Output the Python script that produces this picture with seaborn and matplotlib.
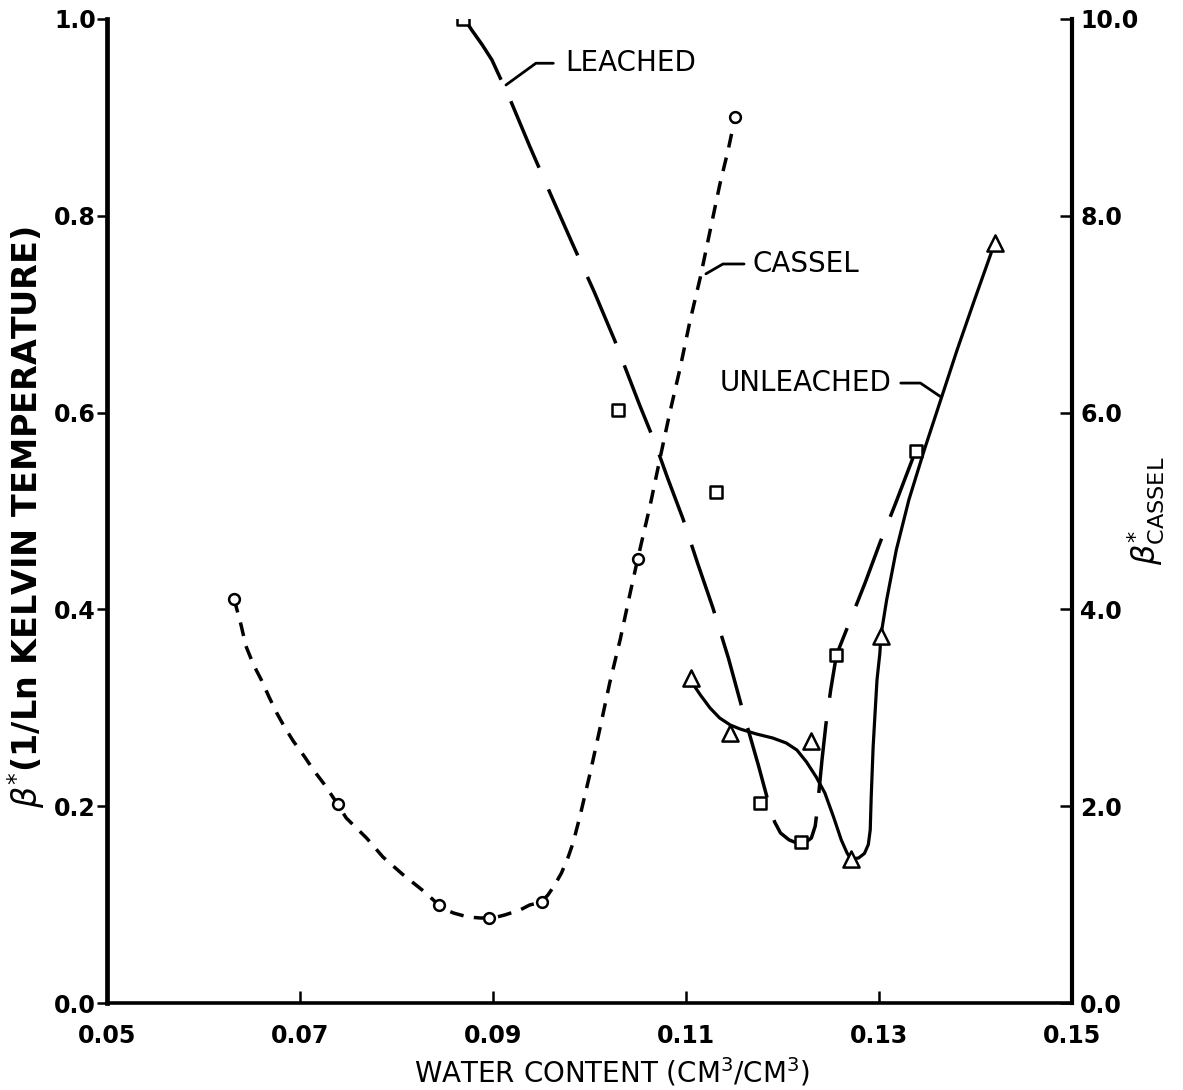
import numpy as np
import pandas as pd
import matplotlib
matplotlib.use("Agg")
import matplotlib.pyplot as plt
import seaborn as sns

# ---------------- data ----------------
# Cassel soil: measured points (circles)
cassel_x = [0.0632, 0.0739, 0.0844, 0.0896, 0.0951, 0.1050, 0.1151]
cassel_y = [0.411, 0.202, 0.0996, 0.0864, 0.1026, 0.451, 0.900]
# Cassel hand-drawn curve (short dashes)
cassel_curve_x = [0.0632, 0.0634, 0.0639, 0.0644, 0.0652, 0.0660, 0.0668, 0.0676,
                  0.0684, 0.0693, 0.0705, 0.0714, 0.0725, 0.0739, 0.0748, 0.0769,
                  0.0786, 0.0806, 0.0828, 0.0844, 0.0852, 0.0859, 0.0874, 0.0887,
                  0.0896, 0.0904, 0.0912, 0.0928, 0.0938, 0.0950, 0.0957, 0.0964,
                  0.0971, 0.0978, 0.0983, 0.0990, 0.1001, 0.1011, 0.1021, 0.1032,
                  0.1042, 0.1050, 0.1063, 0.1073, 0.1083, 0.1094, 0.1104, 0.1115,
                  0.1125, 0.1135, 0.1144, 0.1151]
cassel_curve_y = [0.4106, 0.4024, 0.3841, 0.3628, 0.3435, 0.3283, 0.3110, 0.2947,
                  0.2805, 0.2663, 0.2500, 0.2368, 0.2226, 0.2022, 0.1880, 0.1677,
                  0.1484, 0.1311, 0.1138, 0.0996, 0.0945, 0.0915, 0.0874, 0.0864,
                  0.0864, 0.0874, 0.0894, 0.0945, 0.0996, 0.1026, 0.1098, 0.1199,
                  0.1321, 0.1484, 0.1626, 0.1890, 0.2348, 0.2795, 0.3252, 0.3699,
                  0.4157, 0.4512, 0.5061, 0.5528, 0.5986, 0.6453, 0.6921, 0.7378,
                  0.7846, 0.8313, 0.8679, 0.9004]

# Leached soil: measured points (squares)
leached_x = [0.0869, 0.1030, 0.1131, 0.1177, 0.1219, 0.1256, 0.1338]
leached_y = [1.000, 0.603, 0.519, 0.203, 0.164, 0.354, 0.561]
# Leached hand-drawn curve (long dashes)
leached_curve_x = [0.0870, 0.0878, 0.0889, 0.0899, 0.0918, 0.0938, 0.0961, 0.0983,
                   0.1005, 0.1026, 0.1052, 0.1068, 0.1081, 0.1097, 0.1112, 0.1128,
                   0.1144, 0.1159, 0.1175, 0.1182, 0.1187, 0.1192, 0.1198, 0.1207,
                   0.1215, 0.1223, 0.1230, 0.1234, 0.1236, 0.1238, 0.1241, 0.1245,
                   0.1250, 0.1256, 0.1270, 0.1286, 0.1301, 0.1317, 0.1338]
leached_curve_y = [1.0010, 0.9888, 0.9736, 0.9583, 0.9177, 0.8709, 0.8191, 0.7703,
                   0.7226, 0.6738, 0.6077, 0.5691, 0.5335, 0.4919, 0.4472, 0.4014,
                   0.3506, 0.2967, 0.2419, 0.2165, 0.1982, 0.1839, 0.1728, 0.1657,
                   0.1626, 0.1626, 0.1677, 0.1799, 0.1961, 0.2165, 0.2470, 0.2825,
                   0.3181, 0.3537, 0.3882, 0.4278, 0.4675, 0.5071, 0.5610]

# Unleached soil: measured points (triangles)
unleached_x = [0.1105, 0.1146, 0.1230, 0.1271, 0.1302, 0.1420]
unleached_y = [0.330, 0.274, 0.266, 0.146, 0.373, 0.772]
# Unleached hand-drawn curve (solid)
unleached_curve_x = [0.1105, 0.1108, 0.1115, 0.1125, 0.1135, 0.1146, 0.1156, 0.1173,
                     0.1190, 0.1204, 0.1215, 0.1225, 0.1235, 0.1244, 0.1253, 0.1261,
                     0.1267, 0.1271, 0.1279, 0.1285, 0.1289, 0.1291, 0.1292, 0.1294,
                     0.1296, 0.1298, 0.1301, 0.1302, 0.1308, 0.1318, 0.1331, 0.1347,
                     0.1364, 0.1381, 0.1399, 0.1420]
unleached_curve_y = [0.3303, 0.3232, 0.3130, 0.2998, 0.2896, 0.2825, 0.2785, 0.2734,
                     0.2693, 0.2642, 0.2571, 0.2449, 0.2297, 0.2134, 0.1890, 0.1657,
                     0.1524, 0.1463, 0.1474, 0.1520, 0.1610, 0.1760, 0.2093, 0.2602,
                     0.2947, 0.3283, 0.3557, 0.3730, 0.4096, 0.4604, 0.5112, 0.5620,
                     0.6128, 0.6636, 0.7144, 0.7724]

x_ticks = [0.05, 0.07, 0.09, 0.11, 0.13, 0.15]
x_ticklabels = ["0.05", "0.07", "0.09", "0.11", "0.13", "0.15"]
y_ticks = [0.0, 0.2, 0.4, 0.6, 0.8, 1.0]
y_ticklabels = ["0.0", "0.2", "0.4", "0.6", "0.8", "1.0"]
y2_ticks = [0.0, 2.0, 4.0, 6.0, 8.0, 10.0]
y2_ticklabels = ["0.0", "2.0", "4.0", "6.0", "8.0", "10.0"]

# ---------------- styling ----------------
sns.set_theme(style="ticks")
plt.rcParams["font.family"] = ["DejaVu Sans"]
plt.rcParams["lines.scale_dashes"] = False
plt.rcParams["mathtext.fontset"] = "dejavusans"

fig = plt.figure(figsize=(11.83, 10.90), dpi=100)
ax = fig.add_axes([0.0904, 0.0798, 0.8157, 0.9028])
fig.patch.set_facecolor("white")
ax.set_facecolor("white")

lw = 2.5
sns.lineplot(x=cassel_curve_x, y=cassel_curve_y, sort=False, estimator=None, ax=ax,
             color="black", linewidth=lw, linestyle=(0, (10, 7.5)), zorder=2)
sns.lineplot(x=leached_curve_x, y=leached_curve_y, sort=False, estimator=None, ax=ax,
             color="black", linewidth=lw, linestyle=(0, (52, 17)), zorder=2)
sns.lineplot(x=unleached_curve_x, y=unleached_curve_y, sort=False, estimator=None, ax=ax,
             color="black", linewidth=2.3, linestyle="-", zorder=2)

mk = dict(color="white", edgecolor="black", linewidth=1.8, zorder=4, ax=ax, legend=False)
sns.scatterplot(x=cassel_x, y=cassel_y, marker="o", s=60, **mk)
sns.scatterplot(x=leached_x, y=leached_y, marker="s", s=70, **mk)
sns.scatterplot(x=unleached_x, y=unleached_y, marker="^", s=135, **mk)

ax.set_xlim(0.05, 0.15)
ax.set_ylim(0.0, 1.0)
ax.set_xticks(x_ticks)
ax.set_xticklabels(x_ticklabels)
ax.set_yticks(y_ticks)
ax.set_yticklabels(y_ticklabels)

ax2 = ax.twinx()
ax2.set_ylim(0.0, 10.0)
ax2.set_yticks(y2_ticks)
ax2.set_yticklabels(y2_ticklabels)

tick_font = 17
ax.tick_params(axis="x", direction="in", length=9, width=1.8, labelsize=tick_font,
               colors="black", top=False, pad=15)
ax.tick_params(axis="y", direction="out", length=7, width=1.8, labelsize=tick_font,
               colors="black", pad=1)
ax2.tick_params(axis="y", direction="in", length=9, width=1.8, labelsize=tick_font,
                colors="black", pad=6)
for lab in ax.get_xticklabels() + ax.get_yticklabels() + ax2.get_yticklabels():
    lab.set_fontweight("bold")

for a in (ax, ax2):
    a.spines["top"].set_visible(False)
ax.spines["left"].set_linewidth(3.4)
ax.spines["bottom"].set_linewidth(2.6)
ax2.spines["right"].set_linewidth(3.0)
for s in ("left", "right", "bottom"):
    ax.spines[s].set_color("black")
    ax2.spines[s].set_color("black")
ax2.spines["left"].set_visible(False)
ax2.spines["bottom"].set_visible(False)
ax.spines["right"].set_visible(False)

ax.set_xlabel("WATER CONTENT (CM$^3$/CM$^3$)", fontsize=20, color="black")
ax.xaxis.set_label_coords(0.523, -0.053)
ax.set_ylabel(r"$\beta^{*}$(1/Ln KELVIN TEMPERATURE)", fontsize=24, fontweight="bold",
              color="black")
ax.yaxis.set_label_coords(-0.062, 0.494)
ax2.set_ylabel(r"$\beta^{*}_{\mathrm{CASSEL}}$", fontsize=23, rotation=90, color="black")
ax2.yaxis.set_label_coords(1.055, 0.50)

# curve labels with leader lines
lab = dict(fontsize=20, color="black", va="center")
ax.annotate("LEACHED", xy=(0.09135, 0.9329), xytext=(0.09746, 0.955), ha="left",
            arrowprops=dict(arrowstyle="-", lw=2.0, color="black", shrinkA=6, shrinkB=0,
                            connectionstyle="angle,angleA=0,angleB=36,rad=0"), **lab)
ax.annotate("CASSEL", xy=(0.11207, 0.741), xytext=(0.11694, 0.751), ha="left",
            arrowprops=dict(arrowstyle="-", lw=2.0, color="black", shrinkA=4, shrinkB=0,
                            connectionstyle="angle,angleA=0,angleB=30,rad=0"), **lab)
ax.annotate("UNLEACHED", xy=(0.13643, 0.6159), xytext=(0.13135, 0.630), ha="right",
            arrowprops=dict(arrowstyle="-", lw=2.0, color="black", shrinkA=4, shrinkB=0,
                            connectionstyle="angle,angleA=0,angleB=146,rad=0"), **lab)

fig.savefig("out.png", dpi=100, facecolor="white")
